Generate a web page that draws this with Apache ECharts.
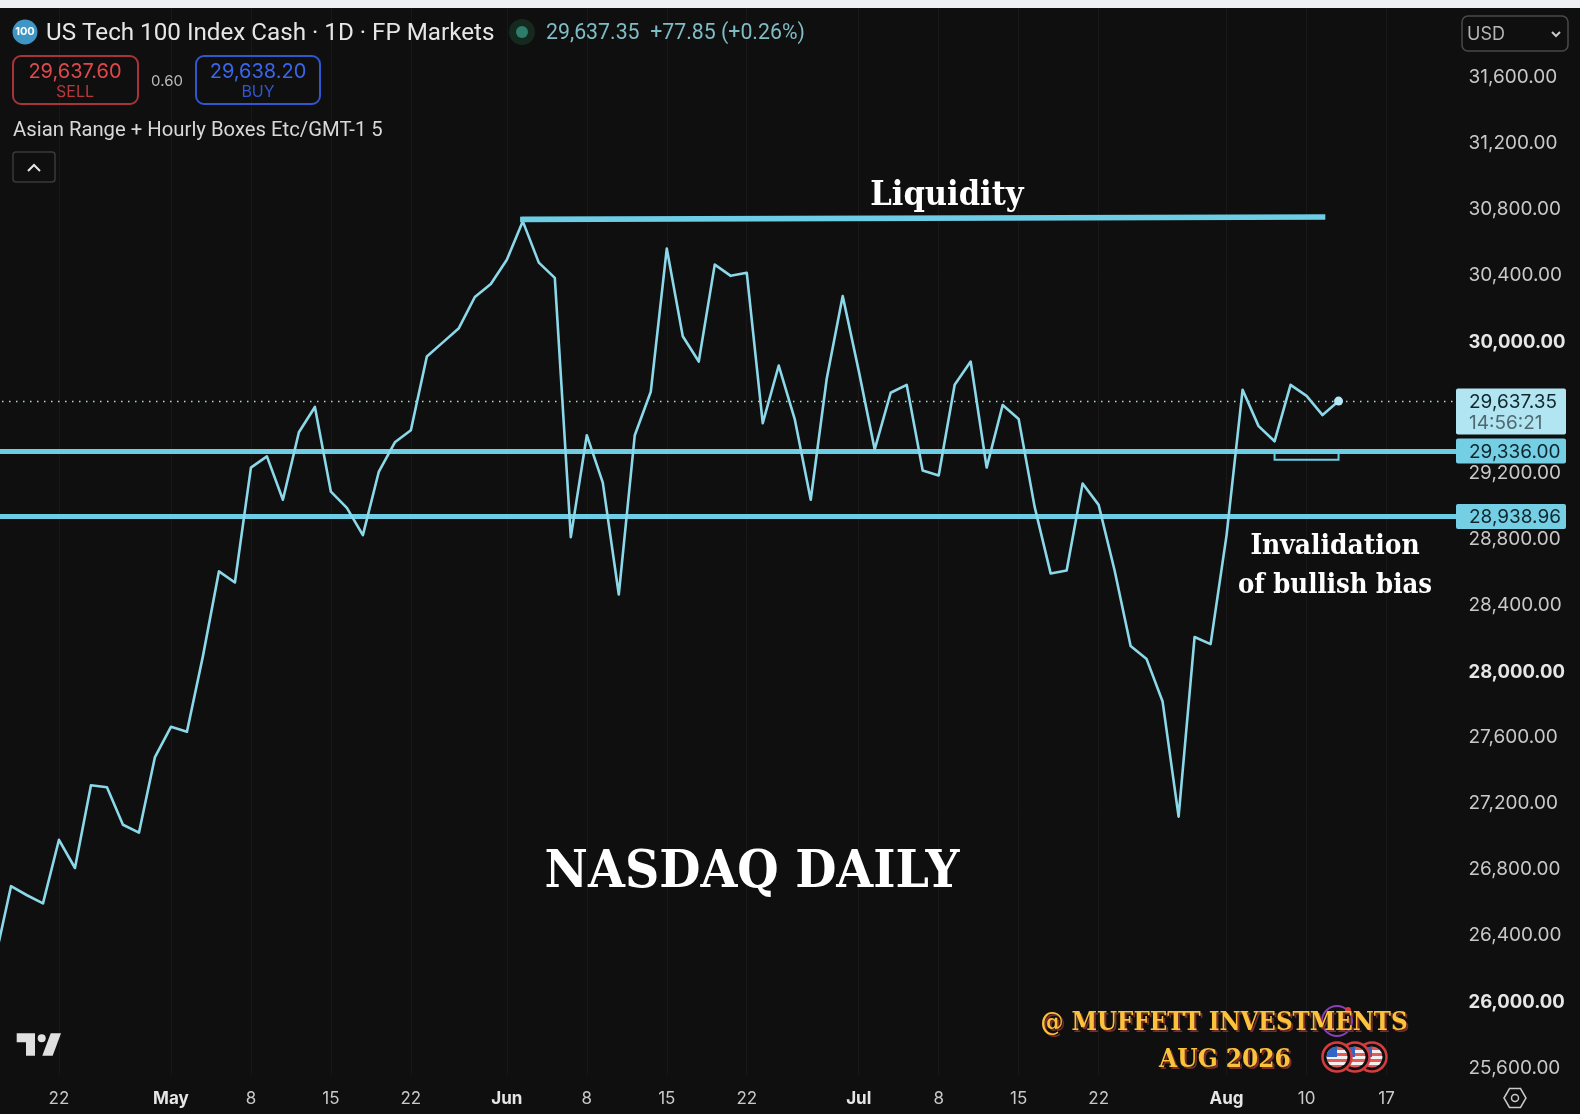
<!DOCTYPE html>
<html><head><meta charset="utf-8">
<style>html,body{margin:0;padding:0;background:#eef0f4;overflow:hidden;width:1580px;height:1114px}#c{position:absolute;left:-5px;top:0;width:1585px;height:1114px}</style>
<script src="https://cdn.jsdelivr.net/npm/echarts@6/dist/echarts.min.js"></script>
</head><body><div id="c"></div>
<script>
const categories=["04-16","04-17","04-20","04-21","04-22","04-23","04-24","04-27","04-28","04-29","04-30",
"05-01","05-04","05-05","05-06","05-07","05-08","05-11","05-12","05-13","05-14","05-15","05-18","05-19","05-20","05-21","05-22","05-25","05-26","05-27","05-28","05-29",
"06-01","06-02","06-03","06-04","06-05","06-08","06-09","06-10","06-11","06-12","06-15","06-16","06-17","06-18","06-19","06-22","06-23","06-24","06-25","06-26","06-29","06-30",
"07-01","07-02","07-03","07-06","07-07","07-08","07-09","07-10","07-13","07-14","07-15","07-16","07-17","07-20","07-21","07-22","07-23","07-24","07-27","07-28","07-29","07-30","07-31",
"08-03","08-04","08-05","08-06","08-07","08-10","08-11","08-12","08-13","08-14","08-17","08-18","08-19","08-20","08-21","08-24"];
const closes=[26254,26700,26645,26596,26981,26810,27311,27299,27072,27024,27482,27665,27635,28093,28606,28539,29235,29303,29040,29449,29602,29089,28991,28826,29211,29388,29461,29908,29993,30079,30268,30347,30494,30726,30476,30384,28814,29431,29144,28466,29431,29694,30561,30030,29877,30464,30396,30415,29504,29853,29529,29040,29773,30274,29822,29345,29688,29736,29217,29187,29736,29877,29235,29614,29529,28997,28594,28612,29138,29009,28612,28154,28075,27818,27121,28209,28166,28826,29706,29486,29394,29736,29669,29553,29637.35];
const xTickLabels={"04-22":"22","05-01":"May","05-08":"8","05-15":"15","05-22":"22","06-01":"Jun","06-08":"8","06-15":"15","06-22":"22","07-01":"Jul","07-08":"8","07-15":"15","07-22":"22","08-03":"Aug","08-10":"10","08-17":"17"};
const monthLabels=["May","Jun","Jul","Aug"];
const yTicks=[25600,26000,26400,26800,27200,27600,28000,28400,28800,29200,30000,30400,30800,31200,31600];
const yBoldTicks=[26000,28000,30000];
const lastPrice=29637.35, supportA=29336, supportB=28938.96;
const liquidityStart=["06-02",30738], liquidityEnd=["08-11",30752];
const boxCorners=[["08-06",29336],["08-12",29282]];

const CYAN='#6ccde4', LINE='#8bd8e9', BG='#0f0f10';
const F='Inter, "Noto Sans", sans-serif';
const RB='Roboto, sans-serif';
const SERIF='"DejaVu Serif Condensed", "DejaVu Serif", serif';
const fmt=v=>v.toLocaleString('en-US',{minimumFractionDigits:2,maximumFractionDigits:2});

const chart=echarts.init(document.getElementById('c'));
chart.setOption({
 animation:false,
 backgroundColor:{type:'linear',x:0,y:0,x2:0,y2:1,colorStops:[{offset:0,color:'#eef0f4'},{offset:8/1114,color:'#eef0f4'},{offset:8/1114,color:BG},{offset:1,color:BG}]},
 grid:{left:0,width:1471.5,top:8,height:1067,containLabel:false},
 xAxis:{type:'category',boundaryGap:false,data:categories,
  axisLine:{show:false},axisTick:{show:false},
  axisLabel:{interval:(i,v)=>v in xTickLabels,hideOverlap:false,showMinLabel:true,showMaxLabel:true,margin:15,color:'#c9c9c9',fontFamily:F,fontSize:17,
   formatter:v=>{const t=xTickLabels[v]||'';return monthLabels.includes(t)?'{b|'+t+'}':t},
   rich:{b:{fontFamily:F,fontSize:17,fontWeight:'bold',color:'#e6e6e6'}}},
  splitLine:{show:true,interval:(i,v)=>v in xTickLabels,lineStyle:{color:'#1b1617',width:1}}},
 yAxis:{type:'value',position:'right',min:25556.5,max:32018,scale:true,
  axisLine:{show:false},axisTick:{show:false},
  axisLabel:{customValues:yTicks,margin:2,color:'#c9c9c9',fontFamily:F,fontSize:19,
   formatter:v=>yBoldTicks.includes(v)?'{b|'+fmt(v)+'}':fmt(v),
   rich:{b:{fontFamily:F,fontSize:18.5,fontWeight:'bold',color:'#e6e6e6',padding:[2,0,0,0]}}},
  splitLine:{show:false}},
 series:[
  {type:'line',name:'Close',data:closes,symbol:'none',z:3,lineStyle:{color:LINE,width:2.6,join:'round'},
   markLine:{silent:true,symbol:'none',z:2,label:{show:false},data:[
     {yAxis:supportA,lineStyle:{color:CYAN,width:5,type:'solid'}},
     {yAxis:supportB,lineStyle:{color:CYAN,width:5,type:'solid'}},
     {yAxis:lastPrice,lineStyle:{color:'#a8dcc8',width:1.3,type:[1.5,5.5]}}]},
   markArea:{silent:true,z:2,itemStyle:{color:'rgba(0,0,0,0)',borderColor:CYAN,borderWidth:2},
     data:[[{coord:boxCorners[0]},{coord:boxCorners[1]}]]},
   markPoint:{silent:true,symbol:'circle',symbolSize:9,itemStyle:{color:'#b5e8f4'},label:{show:false},
     data:[{coord:[categories[closes.length-1],lastPrice]}]}},
  {type:'line',name:'Liquidity',data:[liquidityStart,liquidityEnd],symbol:'none',z:4,lineStyle:{color:CYAN,width:5.5,cap:'square'}}
 ]
});

const yPx=v=>chart.convertToPixel({yAxisIndex:0},v);
const T=(x,y,text,o={})=>({type:'text',x,y,z:o.z||50,style:{text,fill:o.fill||'#d8d8d8',font:`${o.weight||'normal'} ${o.size||16}px ${o.family||F}`,align:o.align||'left',verticalAlign:'middle',...(o.extra||{})}});
const R=(x,y,w,h,o={})=>({type:'rect',z:o.z||49,shape:{x,y,width:w,height:h,r:o.r||0},style:{fill:o.fill||'transparent',stroke:o.stroke||null,lineWidth:o.lw||1.5}});
const C=(cx,cy,r,o={})=>({type:'circle',z:o.z||49,shape:{cx,cy,r},style:{fill:o.fill||'transparent',stroke:o.stroke||null,lineWidth:o.lw||1.5}});
const P=(pts,o={})=>({type:o.open?'polyline':'polygon',z:o.z||49,shape:{points:pts},style:{fill:o.open?'transparent':(o.fill||'#e0e0e0'),stroke:o.stroke||null,lineWidth:o.lw||1.5}});

const flagFill=()=>{const st=[];const n=7;for(let i=0;i<n;i++){const c=i%2?'#f4f0f0':'#e25a5a';st.push({offset:i/n,color:c},{offset:(i+1)/n,color:c});}return {type:'linear',x:0,y:0,x2:0,y2:1,colorStops:st};};
const flag=(cx,cy,z)=>[
 C(cx,cy,14.5,{fill:'#0f0f10',stroke:'#d63c3f',lw:2.5,z}),
 {type:'circle',z:z+1,shape:{cx,cy,r:10.5},style:{fill:flagFill()}},
 {type:'sector',z:z+2,shape:{cx,cy,r:10.5,r0:0,startAngle:Math.PI,endAngle:Math.PI*1.5},style:{fill:'#2f66c8'}}
];
const shadow={textShadowColor:'#7a2c26',textShadowOffsetX:2,textShadowOffsetY:2,textShadowBlur:0.5};
const els=[
 C(25,32,12.5,{fill:'#3f95c4'}), T(25,32,'100',{size:11,weight:'bold',fill:'#fff',align:'center'}),
 T(46,34,'US Tech 100 Index Cash · 1D · FP Markets',{size:24.2,family:RB,fill:'#e6e6e6'}),
 C(522,32,13,{fill:'#15291f'}), C(522,32,6,{fill:'#2c7d69'}),
 T(546,34,'29,637.35  +77.85 (+0.26%)',{size:21.3,family:RB,fill:'#7fbcc4'}),
 R(13,56,125,48,{stroke:'#a8343a',r:8,lw:2}), T(75,72,'29,637.60',{size:20,fill:'#e0484c',align:'center'}), T(75,92,'SELL',{size:16,fill:'#b8383c',align:'center'}),
 T(167,81,'0.60',{size:15,fill:'#bdbdbd',align:'center'}),
 R(196,56,124,48,{stroke:'#2f57cf',r:8,lw:2}), T(258,72,'29,638.20',{size:20,fill:'#3c66ea',align:'center'}), T(258,92,'BUY',{size:16,fill:'#2f57cf',align:'center'}),
 T(13,131,'Asian Range + Hourly Boxes Etc/GMT-1 5',{size:20.3,family:RB,fill:'#d8d8d8'}),
 R(13,152,42,30,{stroke:'#3a3a3a',r:3,lw:1.5}), P([[28,171],[34,165],[40,171]],{open:true,stroke:'#e6e6e6',lw:2}),
 R(1462,16,106,35,{stroke:'#4a4a4a',r:6,lw:1.5}), T(1467,35,'USD',{size:18,fill:'#b5b5b5'}), P([[1552,32],[1556,36],[1560,32]],{open:true,stroke:'#c9c9c9',lw:2}),
 T(947,196,'Liquidity',{size:34,weight:'bold',family:SERIF,fill:'#fff',align:'center'}),
 T(1335,547,'Invalidation',{size:27.8,weight:'bold',family:SERIF,fill:'#fff',align:'center'}),
 T(1335,586,'of bullish bias',{size:27.2,weight:'bold',family:SERIF,fill:'#fff',align:'center'}),
 T(752,873,'NASDAQ DAILY',{size:52.8,weight:'bold',family:SERIF,fill:'#fff',align:'center'}),
 C(1337,1021,15,{stroke:'#8b3fb8',lw:2,z:40}), C(1348,1010,3,{fill:'#d93a3a',z:41}),
 ...flag(1372,1057,42),...flag(1355,1057,44),...flag(1337,1057,46),
 T(1224,1023,'@ MUFFETT INVESTMENTS',{size:25.6,weight:'bold',family:SERIF,fill:'#fbc23c',align:'center',extra:shadow}),
 T(1225,1060,'AUG 2026',{size:26,weight:'bold',family:SERIF,fill:'#fbc23c',align:'center',extra:shadow}),
 P([[16.7,1033.3],[35,1033.3],[35,1055.7],[26,1055.7],[26,1042.3],[16.7,1042.3]],{fill:'#e0e0e0'}),
 C(41.7,1038.3,4,{fill:'#e0e0e0'}),
 P([[50.7,1033.3],[61,1033.3],[52.7,1055.7],[42.3,1055.7]],{fill:'#e0e0e0'}),
 P([[1504,1098],[1509.5,1088.5],[1520.5,1088.5],[1526,1098],[1520.5,1107.5],[1509.5,1107.5]],{fill:'transparent',stroke:'#c9c9c9',lw:1.5}),
 C(1515,1098,3.5,{stroke:'#c9c9c9',lw:1.5})
];
[[supportA,'#74cfe5'],[supportB,'#74cfe5']].forEach(([v,bg])=>{const y=yPx(v);
 els.push(R(1456,y-12.5,110,25,{fill:bg,r:2,z:60}),T(1469,y+1,fmt(v),{size:19,fill:'#10262c',z:61}));});
{const y=yPx(lastPrice);
 els.push(R(1456,y-12.5,110,46,{fill:'#b0e5f1',r:2,z:60}),T(1469,y+1,fmt(lastPrice),{size:19,fill:'#10262c',z:61}),T(1469,y+22,'14:56:21',{size:19,fill:'#4e6a70',z:61}));}
chart.setOption({graphic:[{type:'group',x:5,y:0,children:els}]});
</script></body></html>
